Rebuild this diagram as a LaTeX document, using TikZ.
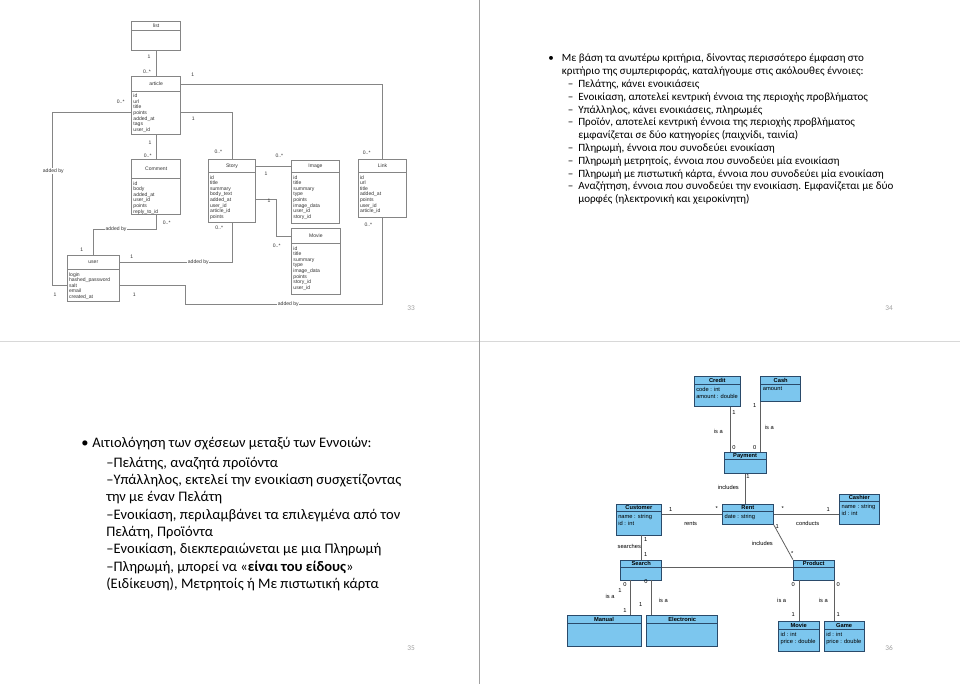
\documentclass[tikz,border=0pt]{standalone}
\usepackage{fontspec}
\setmainfont{Carlito}
\newfontfamily\arl{Liberation Sans}
\usetikzlibrary{fit,calc}
\definecolor{uline}{HTML}{858585}
\definecolor{utext}{HTML}{333333}
\definecolor{bfill}{HTML}{7CC6EE}
\definecolor{bdraw}{HTML}{2A4A6A}
\definecolor{bline}{HTML}{606060}
\definecolor{pgnum}{HTML}{A0A0A0}
\definecolor{vsep}{HTML}{A0A0A0}
\definecolor{hsep}{HTML}{D8D8D8}
\tikzset{
 sfont/.style={font=\arl\fontsize{3.8pt}{4.2pt}\selectfont, text=utext},
 tlboxst/.style={draw=uline, line width=0.5pt, inner sep=0pt},
 tlline/.style={draw=uline, line width=0.5pt},
 tllab/.style={sfont, inner sep=0.5pt},
 onln/.style={tllab, fill=white},
 bfont/.style={font=\arl\fontsize{4.3pt}{5.25pt}\selectfont},
 brboxst/.style={draw=bdraw, fill=bfill, line width=0.6pt, inner sep=0pt},
 brline/.style={draw=bline, line width=0.6pt},
 brlab/.style={bfont, inner sep=0.5pt},
 pg/.style={font=\fontsize{5.5pt}{6pt}\selectfont, text=pgnum},
 trtext/.style={anchor=base west, inner sep=0pt, font=\fontsize{8.3pt}{9pt}\selectfont},
 bltext/.style={anchor=base west, inner sep=0pt, font=\fontsize{10.9pt}{12pt}\selectfont},
}
% top-left UML box: name x1 y1 x2 y2 title sepY attrs
\newcommand\tlbox[8]{%
 \path (#2,#3) coordinate (#1-nw) (#4,#5) coordinate (#1-se);
 \node[tlboxst, fit=(#1-nw)(#1-se)] (#1) {};
 \node[tllab] (#1-t) at ({(#2+#4)/2},{(#3+#7)/2}) {#6};
 \draw[tlline] (#2,#7) -- (#4,#7);
 \node[sfont, anchor=north west, align=left, inner sep=0pt] (#1-a) at ({#2+1.5},{#7+2.8}) {#8};
}
% bottom-right UML box: name x1 y1 x2 y2 title attrs
\newcommand\brbox[7]{%
 \path (#2,#3) coordinate (#1-nw) (#4,#5) coordinate (#1-se);
 \node[brboxst, fit=(#1-nw)(#1-se)] (#1) {};
 \node[brlab, font=\arl\bfseries\fontsize{4.3pt}{5pt}\selectfont] (#1-t) at ({(#2+#4)/2},{#3+3.7}) {#6};
 \draw[draw=bdraw, line width=0.6pt] (#2,{#3+7.3}) -- (#4,{#3+7.3});
 \node[bfont, anchor=north west, align=left, inner sep=0pt] (#1-a) at ({#2+2},{#3+10}) {#7};
}
\begin{document}
\begin{tikzpicture}[x=0.75pt,y=-0.75pt]
\useasboundingbox (0,0) rectangle (960,684);
\fill[white] (0,0) rectangle (960,684);
% slide separators
\draw[draw=hsep, line width=1.1pt] (0,341.7) -- (960,341.7);
\draw[draw=vsep, line width=0.6pt] (479.5,0) -- (479.5,684);

% ===== top-left UML =====
\tlbox{list}{131.7}{21}{180.7}{50.7}{list}{30}{}
\tlbox{article}{131.7}{76.7}{180.7}{134}{article}{91}{id\\url\\title\\points\\added\_at\\tags\\user\_id}
\tlbox{comment}{131.7}{159}{180.7}{214.3}{Comment}{178.3}{id\\body\\added\_at\\user\_id\\points\\reply\_to\_id}
\tlbox{story}{208.3}{159.3}{255.7}{222.7}{Story}{172.3}{id\\title\\summary\\body\_text\\added\_at\\user\_id\\article\_id\\points}
\tlbox{image}{291.7}{160}{339.3}{223.3}{Image}{172.3}{id\\title\\summary\\type\\points\\image\_data\\user\_id\\story\_id}
\tlbox{movie}{291.7}{228.3}{340}{294.3}{Movie}{243.3}{id\\title\\summary\\type\\image\_data\\points\\story\_id\\user\_id}
\tlbox{link}{358.3}{159.3}{406.7}{217.3}{Link}{172.3}{id\\url\\title\\added\_at\\points\\user\_id\\article\_id}
\tlbox{user}{67.3}{255}{119.3}{301}{user}{269.3}{login\\hashed\_password\\salt\\email\\created\_at}

\draw[tlline] (list.south) -- (article.north);
\draw[tlline] (article.east |- 0,84.3) -| (link.north);
\draw[tlline] (article.west |- 0,112.7) -| (52.5,285.5) -- (user.west |- 0,285.5);
\draw[tlline] (article.east |- 0,112.7) -| (story.north);
\draw[tlline] (article.south) -- (comment.north);
\draw[tlline] (comment.south) |- (93.3,229) -- (user.north -| 93.3,0);
\draw[tlline] (story.east |- 0,166.7) -- (image.west |- 0,166.7);
\draw[tlline] (story.east |- 0,199.3) -| (276,236.7) -- (movie.west |- 0,236.7);
\draw[tlline] (story.south) |- (user.east |- 0,262.3);
\draw[tlline] (user.east |- 0,285.7) -| (185,304.3) -| (link.south);

\node[tllab] (l1) at (149,56.7) {1};
\node[tllab] (l2) at (147,71.7) {0..*};
\node[tllab] (l3) at (192.7,75) {1};
\node[tllab] (l4) at (366.7,152.7) {0..*};
\node[tllab] (l5) at (120.7,101.7) {0..*};
\node[tllab] (l6) at (193.3,119) {1};
\node[tllab] (l7) at (218.3,151.7) {0..*};
\node[tllab] (l8) at (150,142.3) {1};
\node[tllab] (l9) at (147.7,155.7) {0..*};
\node[onln] (l10) at (53.3,170.7) {added by};
\node[onln] (l11) at (116,229.3) {added by};
\node[tllab] (l12) at (166.7,222.7) {0..*};
\node[tllab] (l13) at (279.3,155.7) {0..*};
\node[tllab] (l14) at (266,173.3) {1};
\node[tllab] (l15) at (269,201) {1};
\node[tllab] (l16) at (219.3,227.7) {0..*};
\node[tllab] (l17) at (81.7,250) {1};
\node[tllab] (l18) at (131.7,256.7) {1};
\node[onln] (l19) at (198.3,262.3) {added by};
\node[tllab] (l20) at (55,294.3) {1};
\node[tllab] (l21) at (134.3,294.3) {1};
\node[onln] (l22) at (288.3,304.3) {added by};
\node[tllab] (l23) at (276.7,245.7) {0..*};
\node[tllab] (l24) at (368.3,225) {0..*};
\node[pg] (p33) at (411,308) {33};

% ===== top-right text =====
\node[trtext] (r0) at (548,62) {•};
\node[trtext] (r1) at (561.7,62) {Με βάση τα ανωτέρω κριτήρια, δίνοντας περισσότερο έμφαση στο};
\node[trtext] (r2) at (561.7,74.8) {κριτήριο της συμπεριφοράς,  καταλήγουμε στις ακόλουθες έννοιες:};
\node[trtext] (rd1) at (567.7,87.6) {–};
\node[trtext] (r3) at (578,87.6) {Πελάτης, κάνει ενοικιάσεις};
\node[trtext] (rd2) at (567.7,100.4) {–};
\node[trtext] (r4) at (578,100.4) {Ενοικίαση, αποτελεί κεντρική έννοια της περιοχής προβλήματος};
\node[trtext] (rd3) at (567.7,113.2) {–};
\node[trtext] (r5) at (578,113.2) {Υπάλληλος, κάνει ενοικιάσεις, πληρωμές};
\node[trtext] (rd4) at (567.7,126) {–};
\node[trtext] (r6) at (578,126) {Προϊόν, αποτελεί κεντρική έννοια της περιοχής προβλήματος};
\node[trtext] (r7) at (578,138.8) {εμφανίζεται σε δύο κατηγορίες (παιχνίδι, ταινία)};
\node[trtext] (rd5) at (567.7,151.6) {–};
\node[trtext] (r8) at (578,151.6) {Πληρωμή, έννοια που συνοδεύει ενοικίαση};
\node[trtext] (rd6) at (567.7,164.4) {–};
\node[trtext] (r9) at (578,164.4) {Πληρωμή μετρητοίς, έννοια που συνοδεύει μία ενοικίαση};
\node[trtext] (rd7) at (567.7,177.2) {–};
\node[trtext] (r10) at (578,177.2) {Πληρωμή με πιστωτική κάρτα, έννοια που συνοδεύει μία ενοικίαση};
\node[trtext] (rd8) at (567.7,190) {–};
\node[trtext] (r11) at (578,190) {Αναζήτηση, έννοια που συνοδεύει την ενοικίαση. Εμφανίζεται με δύο};
\node[trtext] (r12) at (578,202.8) {μορφές (ηλεκτρονική και χειροκίνητη)};
\node[pg] (p34) at (889,308) {34};

% ===== bottom-left text =====
\node[bltext] (b0) at (81,447.5) {•};
\node[bltext] (b1) at (92,447.5) {Αιτιολόγηση των σχέσεων μεταξύ των Εννοιών:};
\node[bltext] (b2) at (106,467) {–Πελάτης, αναζητά προϊόντα};
\node[bltext] (b3) at (106,484.5) {–Υπάλληλος, εκτελεί την ενοικίαση συσχετίζοντας};
\node[bltext] (b4) at (106,501.5) {την με έναν Πελάτη};
\node[bltext] (b5) at (106,519) {–Ενοικίαση, περιλαμβάνει τα επιλεγμένα από τον};
\node[bltext] (b6) at (106,536) {Πελάτη, Προϊόντα};
\node[bltext] (b7) at (106,553.5) {–Ενοικίαση, διεκπεραιώνεται με μια Πληρωμή};
\node[bltext] (b8) at (106,571) {–Πληρωμή, μπορεί να «\textbf{είναι του είδους}»};
\node[bltext] (b9) at (106,588.5) {(Ειδίκευση), Μετρητοίς ή Με πιστωτική κάρτα};
\node[pg] (p35) at (411,648) {35};

% ===== bottom-right UML =====
\brbox{credit}{694}{376.7}{740.7}{406.7}{Credit}{code : int\\amount : double}
\brbox{cash}{760.7}{376.7}{800.7}{401.7}{Cash}{amount}
\brbox{payment}{724.3}{452.3}{766}{473.3}{Payment}{}
\brbox{customer}{616}{504.3}{661.7}{535}{Customer}{name : string\\id : int}
\brbox{rent}{722.3}{504}{773.3}{524.3}{Rent}{date : string}
\brbox{cashier}{839.3}{494}{879.3}{524.3}{Cashier}{name : string\\id : int}
\brbox{search}{620.7}{560}{661.7}{580}{Search}{}
\brbox{product}{793.3}{560}{834.3}{580}{Product}{}
\brbox{manual}{567}{615.7}{641}{646}{Manual}{}
\brbox{electronic}{646.7}{615.7}{717.7}{646}{Electronic}{}
\brbox{movieb}{778.3}{621.7}{819}{651}{Movie}{id : int\\price : double}
\brbox{game}{824}{621.7}{864.3}{651}{Game}{id : int\\price : double}

\draw[brline] (credit.south -| 730.7,0) -- (payment.north -| 730.7,0);
\draw[brline] (cash.south -| 760.5,0) -- (payment.north -| 760.5,0);
\draw[brline] (payment.south -| 745.7,0) -- (rent.north -| 745.7,0);
\draw[brline] (customer.east |- 0,514) -- (rent.west |- 0,514);
\draw[brline] (rent.east |- 0,514) -- (cashier.west |- 0,514);
\draw[brline] (rent.south east) -- (product.north west);
\draw[brline] (customer.south -| 641,0) -- (search.north -| 641,0);
\draw[brline] (search.east |- 0,567.3) -- (product.west |- 0,567.3);
\draw[brline] (search.south -| 630.7,0) -- (manual.north -| 630.7,0);
\draw[brline] (search.south -| 651,0) -- (electronic.north -| 651,0);
\draw[brline] (product.south -| 799,0) -- (movieb.north -| 799,0);
\draw[brline] (product.south -| 834,0) -- (game.north -| 834,0);

\node[brlab] (m1) at (734,412.3) {1};
\node[brlab] (m2) at (734,447.3) {0};
\node[brlab] (m3) at (718.3,431) {is a};
\node[brlab] (m4) at (754.7,406) {1};
\node[brlab] (m5) at (754.7,447.3) {0};
\node[brlab] (m6) at (769.3,427.3) {is a};
\node[brlab] (m7) at (748,477) {1};
\node[brlab] (m8) at (728.3,487.3) {includes};
\node[brlab] (m9) at (670.7,509.3) {1};
\node[brlab] (m10) at (716.7,509) {*};
\node[brlab] (m11) at (690.7,523.3) {rents};
\node[brlab] (m12) at (782.7,509) {*};
\node[brlab] (m13) at (828.3,509.3) {1};
\node[brlab] (m14) at (807.7,523.3) {conducts};
\node[brlab] (m15) at (777.3,527) {1};
\node[brlab] (m16) at (792.3,554) {*};
\node[brlab] (m17) at (762.3,543.3) {includes};
\node[brlab] (m18) at (645.7,540) {1};
\node[brlab] (m19) at (645.7,555) {1};
\node[brlab] (m20) at (629.3,546.7) {searches};
\node[brlab] (m21) at (625,585) {0};
\node[brlab] (m22) at (646,581.5) {0};
\node[brlab] (m23) at (610,596) {is a};
\node[brlab] (m24) at (620,590.7) {1};
\node[brlab] (m25) at (625,610.7) {1};
\node[brlab] (m26) at (640.7,605) {1};
\node[brlab] (m27) at (663.3,600.7) {is a};
\node[brlab] (m28) at (793.3,585) {0};
\node[brlab] (m29) at (838.3,585) {0};
\node[brlab] (m30) at (781.7,600) {is a};
\node[brlab] (m31) at (823.3,600) {is a};
\node[brlab] (m32) at (793.3,615) {1};
\node[brlab] (m33) at (838.3,615) {1};
\node[pg] (p36) at (889,648) {36};
\end{tikzpicture}
\end{document}
